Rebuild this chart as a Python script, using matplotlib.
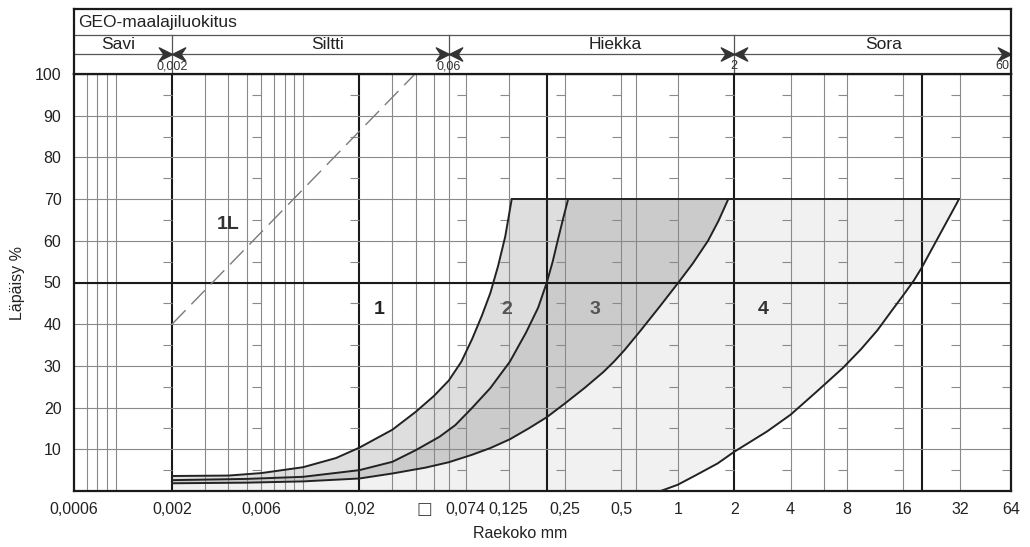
import numpy as np
import matplotlib
matplotlib.use("Agg")
import matplotlib.pyplot as plt
from matplotlib.path import Path

plt.rcParams['font.family'] = ['Liberation Sans', 'DejaVu Sans']

# grain size axis (mm, log)
X_MIN, X_MAX = 0.0006, 60
MAJOR_X = [0.002, 0.02, 0.2, 2, 20]
MINOR_X = [0.0007, 0.0008, 0.0009, 0.001,
           0.003, 0.004, 0.005, 0.006, 0.007, 0.008, 0.009, 0.01,
           0.03, 0.04, 0.05, 0.06, 0.074, 0.125, 0.25, 0.5, 0.6, 1,
           4, 6, 8, 16, 32]
TICK_X = [0.0006, 0.002, 0.006, 0.02, 0.074, 0.125, 0.25, 0.5, 1, 2, 4, 8, 16, 32, 60]
TICK_LABELS = ["0,0006", "0,002", "0,006", "0,02", "0,074", "0,125", "0,25",
               "0,5", "1", "2", "4", "8", "16", "32", "64"]
Y_TICKS = [10, 20, 30, 40, 50, 60, 70, 80, 90, 100]
HALF_TICKS = [5, 15, 25, 35, 45, 55, 65, 75, 85, 95]

# GEO classification header
CLASS_NAMES = ["Savi", "Siltti", "Hiekka", "Sora"]
CLASS_EDGES = [0.002, 0.06, 2]
EDGE_LABELS = ["0,002", "0,06", "2"]
TOP_LABEL = "60"

# boundary curves of the grading zones (grain size mm, passing %)
curve_a_x = [0.002, 0.004, 0.006, 0.01, 0.015, 0.02, 0.03, 0.04, 0.05, 0.06,
             0.07, 0.08, 0.09, 0.1, 0.11, 0.12, 0.13]
curve_a_y = [3.6, 3.7, 4.3, 5.7, 7.9, 10.4, 14.7, 19.0, 22.8, 26.5,
             31.0, 36.5, 42.0, 47.5, 54.0, 61.0, 70.0]
curve_b_x = [0.002, 0.005, 0.01, 0.02, 0.03, 0.04, 0.0535, 0.065, 0.079, 0.1,
             0.127, 0.155, 0.18, 0.2, 0.215, 0.23, 0.245, 0.26]
curve_b_y = [2.6, 2.9, 3.4, 5.0, 7.0, 9.8, 13.0, 15.8, 19.7, 24.7,
             31.0, 38.0, 44.0, 50.0, 55.0, 60.5, 65.5, 70.0]
curve_c_x = [0.002, 0.005, 0.01, 0.02, 0.03, 0.045, 0.06, 0.08, 0.1, 0.127,
             0.16, 0.2, 0.25, 0.32, 0.4, 0.456, 0.52, 0.634, 0.8, 1.0,
             1.2, 1.45, 1.65, 1.86]
curve_c_y = [1.85, 2.0, 2.3, 3.0, 4.2, 5.6, 6.9, 8.7, 10.3, 12.4,
             15.0, 17.7, 21.0, 24.8, 28.5, 31.0, 33.8, 38.5, 44.2, 49.8,
             54.5, 60.0, 64.8, 70.0]
curve_d_x = [0.81, 1.0, 1.25, 1.63, 2.0, 3.0, 4.0, 5.5, 7.6, 9.5,
             11.6, 14.0, 16.0, 18.2, 20.0, 25.0, 31.0, 31.6]
curve_d_y = [0.0, 1.5, 3.8, 6.6, 9.4, 14.3, 18.3, 23.8, 29.5, 34.0,
             38.5, 43.5, 47.0, 50.5, 53.5, 61.5, 69.2, 70.0]
line_1l_x = [0.002, 0.0396]
line_1l_y = [40, 100]

ZONE_LABELS = ["1L", "1", "2", "3", "4"]
ZONE_X = [0.004, 0.0256, 0.123, 0.36, 2.86]
ZONE_Y = [64, 43.5, 43.5, 43.5, 43.5]

fig = plt.figure(figsize=(10.3, 5.47), dpi=100)
ax = fig.add_axes([74 / 1030, 56 / 547, 937 / 1030, 417 / 547])
hd = fig.add_axes([74 / 1030, 473 / 547, 937 / 1030, 65 / 547], sharex=ax)

ax.set_xscale("log")
ax.set_xlim(X_MIN, X_MAX)
ax.set_ylim(0, 100)

# zone fills
top = 70
ab_x = curve_a_x + curve_b_x[::-1]
ab_y = curve_a_y + curve_b_y[::-1]
ax.fill(ab_x, ab_y, color="#dedede", lw=0, zorder=1)
bc_x = curve_b_x + curve_c_x[::-1]
bc_y = curve_b_y + curve_c_y[::-1]
ax.fill(bc_x, bc_y, color="#cbcbcb", lw=0, zorder=1)
cd_x = curve_c_x + curve_d_x[::-1] + [curve_c_x[0]]
cd_y = curve_c_y + curve_d_y[::-1] + [0]
ax.fill(cd_x, cd_y, color="#f1f1f1", lw=0, zorder=1)

# grid
for x in MINOR_X:
    ax.axvline(x, color="#8a8a8a", lw=0.8, zorder=2)
for x in MAJOR_X:
    ax.axvline(x, color="#1a1a1a", lw=1.5, zorder=2)
for y in Y_TICKS[:-1]:
    ax.axhline(y, color="#8a8a8a", lw=0.8, zorder=2)
ax.axhline(50, color="#1a1a1a", lw=1.5, zorder=2)
for x in TICK_X[1:]:
    ax.hlines(HALF_TICKS, x * 10 ** -0.048, x, color="#8a8a8a", lw=0.8, zorder=2)

# curves
for cx, cy in [(curve_a_x, curve_a_y), (curve_b_x, curve_b_y),
               (curve_c_x, curve_c_y), (curve_d_x, curve_d_y)]:
    ax.plot(cx, cy, color="#222222", lw=1.4, zorder=4, solid_joinstyle="round")
ax.plot([curve_a_x[-1], curve_d_x[-1]], [top, top], color="#222222", lw=1.4, zorder=4)
ax.plot(line_1l_x, line_1l_y, color="#7a7a7a", lw=1.0, dashes=(14, 6), zorder=4)

zone_colors = ["#333333", "#222222", "#555555", "#555555", "#333333"]
for lab, x, y, c in zip(ZONE_LABELS, ZONE_X, ZONE_Y, zone_colors):
    ax.text(x, y, lab, ha="center", va="center", fontsize=14, fontweight="bold",
            color=c, zorder=5)

for s in ax.spines.values():
    s.set_linewidth(1.6)
    s.set_color("#1a1a1a")

ax.set_xticks(TICK_X)
ax.set_xticklabels(TICK_LABELS)
ax.xaxis.set_minor_locator(matplotlib.ticker.NullLocator())
ax.set_yticks(Y_TICKS)
ax.set_yticklabels([str(v) for v in Y_TICKS])
ax.tick_params(length=0, labelsize=11.5, colors="#222222", pad=9)
ax.tick_params(axis="x", pad=8)
ax.text(0.0444, -0.043, "\u25a1", transform=ax.get_xaxis_transform(), ha="center",
        va="center", fontsize=12, color="#444444", family="DejaVu Sans")
ax.set_xlabel("Raekoko mm", fontsize=11.5, color="#222222")
ax.xaxis.set_label_coords(0.476, -0.085)
ax.set_ylabel("Läpäisy %", fontsize=11.5, color="#222222")
ax.yaxis.set_label_coords(-0.052, 0.5)

# header
hd.set_ylim(0, 1)
hd.set_yticks([])
hd.tick_params(axis="x", which="both", length=0, labelbottom=False)
for s in hd.spines.values():
    s.set_linewidth(1.6)
    s.set_color("#1a1a1a")
hd.axhline(0.6, color="#555555", lw=0.9)
hd.axhline(0.308, color="#555555", lw=0.9)
for x in CLASS_EDGES:
    hd.plot([x, x], [0, 0.6], color="#555555", lw=0.9)
hd.text(0.0045, 0.8, "GEO-maalajiluokitus", transform=hd.get_yaxis_transform(),
        ha="left", va="center", fontsize=12.5, color="#222222")
hd.set_xlim(X_MIN, X_MAX)
for name, x in zip(CLASS_NAMES, [0.00103, 0.0135, 0.462, 12.5]):
    hd.text(x, 0.45, name, ha="center", va="center", fontsize=12.5, color="#222222")

right_head = Path([(-1, 0.5), (0, 0), (-1, -0.5), (-0.65, 0), (-1, 0.5)],
                  [Path.MOVETO, Path.LINETO, Path.LINETO, Path.LINETO, Path.CLOSEPOLY])
left_head = Path([(1, 0.5), (0, 0), (1, -0.5), (0.65, 0), (1, 0.5)],
                 [Path.MOVETO, Path.LINETO, Path.LINETO, Path.LINETO, Path.CLOSEPOLY])
for x, lab in zip(CLASS_EDGES, EDGE_LABELS):
    hd.plot([x], [0.308], marker=right_head, ms=19, color="#333333", lw=0)
    hd.plot([x], [0.308], marker=left_head, ms=19, color="#333333", lw=0)
    hd.text(x, 0.12, lab, ha="center", va="center", fontsize=9, color="#333333")
hd.plot([X_MAX], [0.308], marker=right_head, ms=19, color="#333333", lw=0, clip_on=False)
hd.text(X_MAX * 0.985, 0.12, TOP_LABEL, ha="right", va="center", fontsize=9, color="#333333")

fig.savefig("out.png", dpi=100)
